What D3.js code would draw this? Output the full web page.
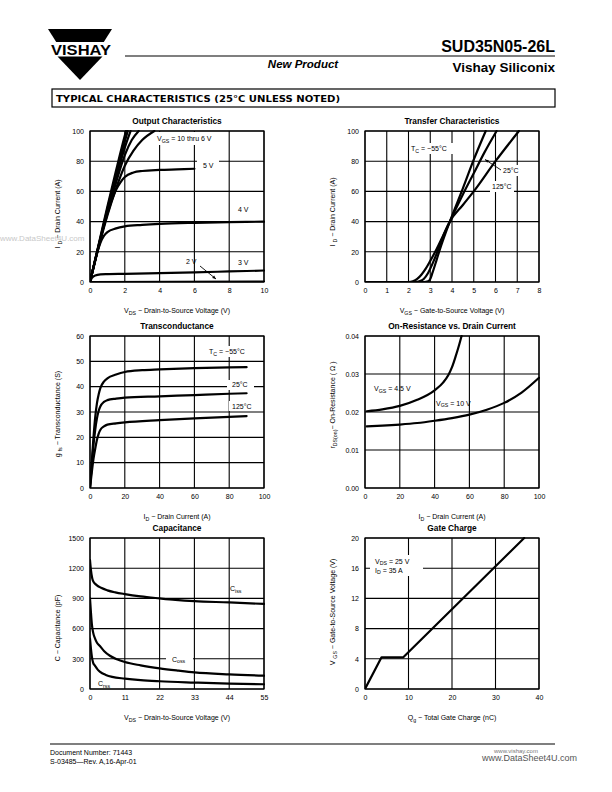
<!DOCTYPE html>
<html><head><meta charset="utf-8">
<script src="https://cdn.jsdelivr.net/npm/d3@7"></script>
<style>
html,body{margin:0;padding:0;background:#fff;}
svg{display:block;}
text{font-family:"Liberation Sans",Arial,Helvetica,sans-serif;fill:#000;}
</style></head><body>
<svg id="page" width="612" height="792"></svg>
<script>
// ---------------- DATA ----------------
// Output Characteristics (VDS in V, ID in A)
const outXTicks = [0, 2, 4, 6, 8, 10];
const outYTicks = [0, 20, 40, 60, 80, 100];
const out10V = [[0,0],[0.5,25],[1,50],[1.5,74],[2.0,97],[2.07,100]];
const out9V  = [[0,0],[0.5,24.5],[1,48.5],[1.5,71.5],[2,93],[2.17,100]];
const out8V  = [[0,0],[0.5,24],[1,47],[1.5,69],[2,89],[2.33,100]];
const out7V  = [[0,0],[0.5,24],[1,46],[1.5,66],[2,84],[2.4,94],[2.8,100]];
const out6V  = [[0,0],[0.5,23],[1,44],[1.5,62],[2,77],[2.5,87],[3,94],[3.7,100]];
const out5V  = [[0,0],[0.25,12],[0.5,24],[0.75,35],[1,45],[1.25,54],[1.5,61],[1.75,66],[2,69.5],[2.5,72.5],[3,73.5],[4,74.2],[5,74.6],[6,75]];
const out4V  = [[0,0],[0.2,10],[0.4,19],[0.6,26],[0.8,30.5],[1,33],[1.5,35.5],[2,36.8],[3,37.8],[4,38.5],[6,39.2],[8,39.6],[10,40]];
const out3V  = [[0,0],[0.1,2.5],[0.3,4.3],[0.6,5],[1,5.2],[2,5.4],[4,5.9],[6,6.4],[8,7],[10,7.6]];
const out2V  = [[0,0],[10,0.3]];

// Transfer Characteristics (VGS in V, ID in A)
const trXTicks = [0,1,2,3,4,5,6,7,8];
const trYTicks = [0,20,40,60,80,100];
const trM55 = [[0,0],[2.7,0],[2.9,0.5],[3.0,2],[3.1,6],[3.3,15],[3.5,24],[3.9,40],[4.5,62],[5,81],[5.55,100]];
const tr25  = [[0,0],[2.3,0],[2.5,0.5],[2.7,2],[2.9,6],[3.1,12],[3.3,19],[3.5,27],[3.9,40],[4.5,58],[5,72],[5.5,86],[6.05,100]];
const tr125 = [[0,0],[2.0,0],[2.2,0.5],[2.4,2],[2.6,5],[2.8,9],[3.0,14],[3.3,22],[3.6,31],[3.9,40],[4.5,51],[5,60],[6,80],[7.08,100]];

// Transconductance (ID in A, gfs in S)
const gXTicks = [0,20,40,60,80,100];
const gYTicks = [0,10,20,30,40,50,60];
const gM55 = [[0,0],[1,10],[2,20],[3,28],[4,33.5],[5,37],[6,39.5],[8,42],[10,43.3],[15,44.8],[20,45.8],[30,46.5],[40,46.8],[60,47.3],[80,47.6],[90,47.7]];
const g25  = [[0,0],[1,9],[2,17],[3,23],[4,27.5],[5,30.5],[6,32.3],[8,34],[10,34.7],[15,35.3],[20,35.7],[40,36.2],[60,36.7],[80,37.2],[90,37.4]];
const g125 = [[0,0],[1,6],[2,11.5],[3,15.5],[4,19],[5,21.5],[6,23],[8,24.3],[10,25],[15,25.5],[20,25.9],[40,26.8],[60,27.5],[80,28.1],[90,28.4]];

// On-Resistance vs Drain Current (ID in A, rDS(on) in ohm)
const rXTicks = [0,20,40,60,80,100];
const rYTicks = [0,0.01,0.02,0.03,0.04];
const rVgs45 = [[1,0.0202],[10,0.0207],[20,0.0216],[30,0.0232],[40,0.0257],[45,0.0278],[48,0.0298],[50,0.0318],[52,0.0345],[54,0.0375],[55.5,0.04]];
const rVgs10 = [[1,0.0162],[10,0.0164],[20,0.0167],[30,0.0171],[40,0.0177],[50,0.0184],[60,0.0193],[70,0.0206],[80,0.0224],[90,0.0251],[100,0.029]];

// Capacitance (VDS in V, C in pF)
const cXTicks = [0,11,22,33,44,55];
const cYTicks = [0,300,600,900,1200,1500];
const cIss = [[0,1280],[0.3,1180],[0.7,1100],[1.2,1060],[2,1035],[3.5,1005],[5.5,980],[8,960],[11,943],[16,920],[22,900],[27,885],[33,872],[44,860],[55,845]];
const cOss = [[0,900],[0.3,760],[0.6,640],[1,560],[1.6,500],[2.2,460],[3.2,425],[4.5,375],[6.3,330],[8.5,295],[11,268],[16,235],[22,205],[28,182],[33,165],[44,145],[55,132]];
const cRss = [[0,500],[0.3,400],[0.6,320],[1,260],[1.6,230],[2.5,190],[3.2,170],[5,140],[7,120],[11,103],[16,88],[22,77],[33,64],[44,53],[55,47]];

// Gate Charge (Qg in nC, VGS in V)
const qXTicks = [0,10,20,30,40];
const qYTicks = [0,4,8,12,16,20];
const qVgs = [[0,0],[3.8,4.2],[8.8,4.2],[36.6,20]];

// ---------------- DRAWING ----------------
const svg = d3.select("#page");
svg.append("rect").attr("width",612).attr("height",792).attr("fill","#fff");

function rich(parent, x, y, segs, size, anchor, extra){
  const t = parent.append("text").attr("x",x).attr("y",y)
    .attr("font-size",size).attr("text-anchor",anchor||"start");
  if(extra) extra(t);
  let shifted = false;
  segs.forEach(s=>{
    const sp = t.append("tspan").text(s[0]);
    if(s[1] && !shifted){ sp.attr("font-size",size*0.75).attr("dy",size*0.28); shifted=true; }
    else if(!s[1] && shifted){ sp.attr("dy",-size*0.28); shifted=false; }
    else if(s[1]) sp.attr("font-size",size*0.75);
  });
  return t;
}

let clipId = 0;
function chart(cfg){
  const g = svg.append("g");
  const x = d3.scaleLinear().domain(cfg.xd).range([cfg.x0,cfg.x1]);
  const y = d3.scaleLinear().domain(cfg.yd).range([cfg.y1,cfg.y0]);
  // grid
  g.selectAll(".vg").data(cfg.xt).join("line")
    .attr("x1",d=>x(d)).attr("x2",d=>x(d)).attr("y1",cfg.y0).attr("y2",cfg.y1)
    .attr("stroke","#000").attr("stroke-width",1.1);
  g.selectAll(".hg").data(cfg.yt).join("line")
    .attr("x1",cfg.x0).attr("x2",cfg.x1).attr("y1",d=>y(d)).attr("y2",d=>y(d))
    .attr("stroke","#000").attr("stroke-width",1.1);
  g.append("rect").attr("x",cfg.x0).attr("y",cfg.y0).attr("width",cfg.x1-cfg.x0).attr("height",cfg.y1-cfg.y0)
    .attr("fill","none").attr("stroke","#000").attr("stroke-width",1.2);
  // axes labels
  const ax = g.append("g").attr("transform",`translate(0,${cfg.y1})`)
    .call(d3.axisBottom(x).tickValues(cfg.xt).tickSize(0).tickPadding(6).tickFormat(cfg.xf||d3.format("d")));
  const ay = g.append("g").attr("transform",`translate(${cfg.x0},0)`)
    .call(d3.axisLeft(y).tickValues(cfg.yt).tickSize(0).tickPadding(6).tickFormat(cfg.yf||d3.format("d")));
  [ax,ay].forEach(a=>{ a.select(".domain").remove(); a.attr("font-family",null).attr("font-size",null);
    a.selectAll("text").attr("font-size",7).attr("fill","#000"); });
  // white label backgrounds (drawn over grid, under curves)
  const lbl = g.append("g");
  // curves
  const id = "clip"+(clipId++);
  g.append("clipPath").attr("id",id).append("rect")
    .attr("x",cfg.x0).attr("y",cfg.y0-1).attr("width",cfg.x1-cfg.x0+1).attr("height",cfg.y1-cfg.y0+1);
  const cg = g.append("g").attr("clip-path",`url(#${id})`);
  const line = d3.line().x(d=>x(d[0])).y(d=>y(d[1])).curve(cfg.curve||d3.curveMonotoneX);
  cfg.series.forEach(s=>{
    cg.append("path").attr("d",line(s)).attr("fill","none").attr("stroke","#000")
      .attr("stroke-width",2.2).attr("stroke-linejoin","round").attr("stroke-linecap","round");
  });
  // title
  g.append("text").attr("x",(cfg.x0+cfg.x1)/2).attr("y",cfg.y0-7).attr("text-anchor","middle")
    .attr("font-size",8.3).attr("font-weight","bold").text(cfg.title);
  rich(g,(cfg.x0+cfg.x1)/2, cfg.y1+31, cfg.xl, 7, "middle");
  const yg = g.append("g").attr("transform",`translate(${cfg.x0-30},${cfg.ylc}) rotate(-90)`);
  rich(yg,0,0,cfg.yl,7,"middle");
  return {g, lbl, x, y};
}

function note(c, px, py, segs, box){
  if(box) c.lbl.append("rect").attr("x",box[0]).attr("y",box[1]).attr("width",box[2]).attr("height",box[3]).attr("fill","#fff");
  rich(c.g, px, py, segs, 7, "start");
}
function arrow(g, x1,y1,x2,y2){
  g.append("line").attr("x1",x1).attr("y1",y1).attr("x2",x2).attr("y2",y2).attr("stroke","#000").attr("stroke-width",0.9);
  const a = Math.atan2(y2-y1,x2-x1), L=4, w=0.4;
  const p = [[x2,y2],[x2-L*Math.cos(a-w),y2-L*Math.sin(a-w)],[x2-L*Math.cos(a+w),y2-L*Math.sin(a+w)]];
  g.append("path").attr("d","M"+p.map(q=>q.join(",")).join("L")+"Z").attr("fill","#000");
}

// Chart 1
const c1 = chart({x0:90,x1:264,y0:131,y1:282,xd:[0,10],yd:[0,100],xt:outXTicks,yt:outYTicks,
  title:"Output Characteristics",
  xl:[["V"],["DS",1],["  −  Drain-to-Source Voltage (V)"]],
  yl:[["I "],["D",1],[" − Drain Current (A)"]], ylc:214,
  series:[out10V,out9V,out8V,out7V,out6V,out5V,out4V,out3V,out2V]});
note(c1, c1.x(3.85), 141, [["V"],["GS",1],[" = 10 thru 6 V"]], [154,132,62,13]);
note(c1, 203, 168, [["5 V"]], [197,160,22,12]);
note(c1, 238, 212, [["4 V"]]);
note(c1, 238, 265, [["3 V"]]);
note(c1, 186, 264, [["2 V"]]);
arrow(c1.g, 200, 266, 216, 279);

// Chart 2
const c2 = chart({x0:365,x1:539,y0:131,y1:282,xd:[0,8],yd:[0,100],xt:trXTicks,yt:trYTicks,
  title:"Transfer Characteristics",
  xl:[["V"],["GS",1],["  −  Gate-to-Source Voltage (V)"]],
  yl:[["I "],["D",1],[" − Drain Current (A)"]], ylc:212,
  series:[trM55,tr25,tr125]});
note(c2, 411, 151, [["T"],["C",1],[" = −55°C"]], [410,143,50,11]);
note(c2, 503, 173, [["25°C"]], [501,165,20,11]);
note(c2, 492, 189, [["125°C"]], [490,181,24,11]);
arrow(c2.g, 501, 170, 485, 159.5);

// Chart 3
const c3 = chart({x0:90,x1:264,y0:336,y1:488,xd:[0,100],yd:[0,60],xt:gXTicks,yt:gYTicks,
  title:"Transconductance",
  xl:[["I"],["D",1],["  −  Drain Current (A)"]],
  yl:[["g "],["fs",1],[" − Transconductance (S)"]], ylc:414,
  series:[gM55,g25,g125]});
note(c3, 209, 354, [["T"],["C",1],[" = −55°C"]], [206,346,52,11]);
note(c3, 232, 387, [["25°C"]], [227,380,27,10]);
note(c3, 232, 409, [["125°C"]], [229,401,25,10]);

// Chart 4
const c4 = chart({x0:365,x1:539,y0:336,y1:488,xd:[0,100],yd:[0,0.04],xt:rXTicks,yt:rYTicks,
  xf:d3.format("d"), yf:d3.format(".2f"),
  title:"On-Resistance vs. Drain Current",
  xl:[["I"],["D",1],["  −  Drain Current (A)"]],
  yl:[["r"],["DS(on)",1],["− On-Resistance ( Ω )"]], ylc:405,
  series:[rVgs45,rVgs10]});
note(c4, 374, 391, [["V"],["GS",1],[" = 4.5 V"]]);
note(c4, 436, 405.5, [["V"],["GS",1],[" = 10 V"]]);

// Chart 5
const c5 = chart({x0:90,x1:264,y0:538,y1:689,xd:[0,55],yd:[0,1500],xt:cXTicks,yt:cYTicks,
  title:"Capacitance",
  xl:[["V"],["DS",1],["  −  Drain-to-Source Voltage (V)"]],
  yl:[["C  −  Capacitance (pF)"]], ylc:628,
  series:[cIss,cOss,cRss]});
note(c5, 230, 591, [["C"],["iss",1]]);
note(c5, 172, 661.5, [["C"],["oss",1]], [166,654,27,11]);
note(c5, 98, 686, [["C"],["rss",1]]);

// Chart 6
const c6 = chart({x0:365,x1:539,y0:538,y1:689,xd:[0,40],yd:[0,20],xt:qXTicks,yt:qYTicks,
  title:"Gate Charge", curve:d3.curveLinear,
  xl:[["Q"],["g",1],["  −  Total Gate Charge (nC)"]],
  yl:[["V "],["GS",1],[" − Gate-to-Source Voltage (V)"]], ylc:612,
  series:[qVgs]});
note(c6, 375, 563.5, [["V"],["DS",1],[" = 25 V"]], [370,555,53,21]);
note(c6, 375, 572.5, [["I"],["D",1],[" = 35 A"]]);

// ---------------- HEADER ----------------
const hd = svg.append("g");
hd.append("path").attr("d","M48,29L112,29L103.8,42L56.2,42Z").attr("fill","#000");
hd.append("path").attr("d","M57.5,56.5L102.5,56.5L80,80Z").attr("fill","#000");
hd.append("text").attr("x",51).attr("y",55).attr("font-size",15.5).attr("font-weight","bold")
  .attr("textLength",60).attr("lengthAdjust","spacingAndGlyphs").text("VISHAY");
hd.append("text").attr("x",555).attr("y",52).attr("text-anchor","end").attr("font-size",16)
  .attr("font-weight","bold").text("SUD35N05-26L");
hd.append("line").attr("x1",125).attr("x2",555).attr("y1",56).attr("y2",56).attr("stroke","#000").attr("stroke-width",1.2);
hd.append("text").attr("x",303).attr("y",67.5).attr("text-anchor","middle").attr("font-size",11.5)
  .attr("font-weight","bold").attr("font-style","italic").text("New Product");
hd.append("text").attr("x",555).attr("y",71.5).attr("text-anchor","end").attr("font-size",13.5)
  .attr("font-weight","bold").text("Vishay Siliconix");
hd.append("rect").attr("x",52).attr("y",89).attr("width",503).attr("height",18).attr("fill","#fff")
  .attr("stroke","#000").attr("stroke-width",1.2);
hd.append("text").attr("x",56).attr("y",102).attr("font-size",9.5).attr("font-weight","900")
  .style("font-family","'DejaVu Sans',sans-serif").attr("textLength",284).attr("lengthAdjust","spacingAndGlyphs")
  .text("TYPICAL CHARACTERISTICS (25°C UNLESS NOTED)");

// watermark
svg.append("text").attr("x",0).attr("y",241).attr("font-size",8).style("fill","#c8c8c8").text("www.DataSheet4U.com");

// ---------------- FOOTER ----------------
const ft = svg.append("g");
ft.append("line").attr("x1",50).attr("x2",555).attr("y1",744).attr("y2",744).attr("stroke","#000").attr("stroke-width",1.2);
ft.append("text").attr("x",50).attr("y",755).attr("font-size",7).text("Document Number:  71443");
ft.append("text").attr("x",50).attr("y",764).attr("font-size",7).text("S-03485—Rev. A,16-Apr-01");
ft.append("text").attr("x",494).attr("y",753).attr("font-size",6).style("fill","#777").text("www.vishay.com");
ft.append("text").attr("x",482).attr("y",761).attr("font-size",9).style("fill","#555").text("www.DataSheet4U.com");
</script></body></html>
